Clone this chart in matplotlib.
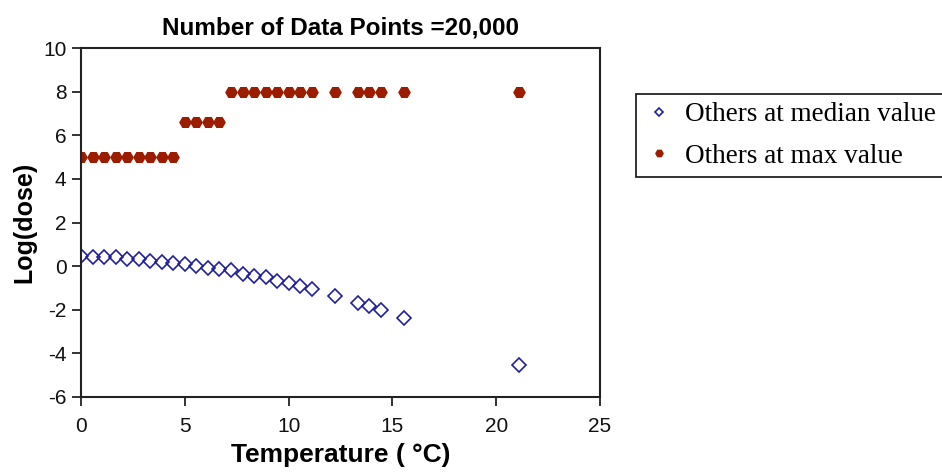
"""Log(dose) vs temperature, others at median / max value (20,000 data points)."""

import matplotlib
matplotlib.use("Agg")
import matplotlib.pyplot as plt

# temperatures in degC (Fahrenheit steps converted)
temps = [0.0, 0.56, 1.11, 1.67, 2.22, 2.78, 3.33, 3.89, 4.44, 5.0, 5.56, 6.11, 6.67,
         7.22, 7.78, 8.33, 8.89, 9.44, 10.0, 10.56, 11.11, 12.22, 13.33, 13.89,
         14.44, 15.56, 21.11]

log_dose_median = [0.45, 0.42, 0.42, 0.41, 0.34, 0.31, 0.23, 0.17, 0.15, 0.09, 0.02,
                   -0.07, -0.14, -0.19, -0.35, -0.45, -0.52, -0.67, -0.79, -0.91,
                   -1.05, -1.37, -1.69, -1.84, -1.99, -2.38, -4.52]

log_dose_max = [5.0, 5.0, 5.0, 5.0, 5.0, 5.0, 5.0, 5.0, 5.0,
                6.6, 6.6, 6.6, 6.6,
                8.0, 8.0, 8.0, 8.0, 8.0, 8.0, 8.0, 8.0,
                8.0, 8.0, 8.0, 8.0, 8.0, 8.0]

x_ticks = [0, 5, 10, 15, 20, 25]
y_ticks = [-6, -4, -2, 0, 2, 4, 6, 8, 10]

plt.rcParams["font.family"] = ["Liberation Sans", "DejaVu Sans"]
plt.rcParams["axes.unicode_minus"] = False

W, H = 942, 475
fig = plt.figure(figsize=(W / 100, H / 100), dpi=100)
ax = fig.add_axes([81 / W, (H - 397) / H, (600 - 81) / W, (397 - 48) / H])

ax.plot(temps, log_dose_median, linestyle="none", marker="D", markersize=6.8,
        markerfacecolor="none", markeredgecolor="#1f1f9e", markeredgewidth=1.2,
        label="Others at median value")
ax.plot(temps, log_dose_max, linestyle="none", marker="H", markersize=8,
        color="#9c1c00", label="Others at max value")

ax.set_xlim(0, 25)
ax.set_ylim(-6, 10)
ax.set_xticks(x_ticks)
ax.set_yticks(y_ticks)
ax.tick_params(axis="both", direction="out", length=6.5, width=1.2, labelsize=15,
               colors="#111111")
ax.tick_params(axis="x", pad=8)
ax.tick_params(axis="y", pad=4)
for spine in ax.spines.values():
    spine.set_linewidth(1.5)
    spine.set_color("#222222")

ax.set_title("Number of Data Points =20,000", fontsize=17.5, fontweight="bold", pad=10)
ax.set_xlabel("Temperature ( °C)", fontsize=19, fontweight="bold", labelpad=5)
ax.set_ylabel("Log(dose)", fontsize=18, fontweight="bold", labelpad=5)

# legend box runs past the right edge, as in the original export
leg = fig.legend(loc="upper left", bbox_to_anchor=(636 / W, 1 - 94 / H),
                 bbox_transform=fig.transFigure, borderaxespad=0,
                 prop={"family": ["Liberation Serif", "DejaVu Serif"], "size": 19.5},
                 markerscale=0.65, handlelength=1.1, handletextpad=0.4,
                 labelspacing=0.62, borderpad=0.3, fancybox=False, framealpha=1)
leg.get_frame().set_edgecolor("#222222")
leg.get_frame().set_linewidth(1.3)

fig.savefig("out.png", dpi=100)
